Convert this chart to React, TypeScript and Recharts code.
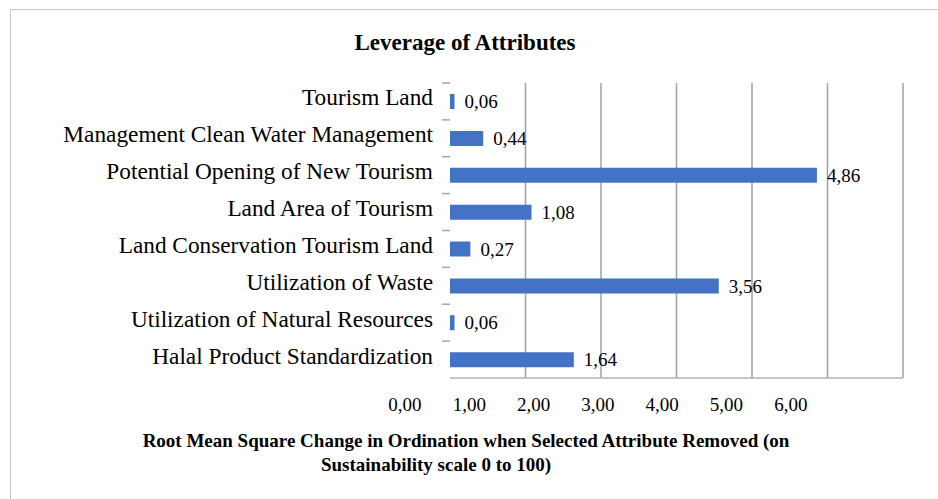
import React from "react";
import { BarChart, Bar, XAxis, YAxis, CartesianGrid, LabelList } from "recharts";

const categories = [
  "Tourism Land",
  "Management Clean Water Management",
  "Potential Opening of New Tourism",
  "Land Area of Tourism",
  "Land Conservation Tourism Land",
  "Utilization of Waste",
  "Utilization of Natural Resources",
  "Halal Product Standardization",
];
const values = [0.06, 0.44, 4.86, 1.08, 0.27, 3.56, 0.06, 1.64];
const tickValues = [0, 1, 2, 3, 4, 5, 6];
const gridValues = [1, 2, 3, 4, 5, 6];

const title = "Leverage of Attributes";
const axisTitle1 = "Root Mean Square Change in Ordination when Selected Attribute Removed (on";
const axisTitle2 = "Sustainability scale 0 to 100)";

const data = categories.map((name, i) => ({ name, value: values[i] }));

const W = 938;
const H = 499;
const FONT = "'Liberation Serif', 'Times New Roman', serif";
const fmt = (v: number) => v.toFixed(2).replace(".", ",");

// tick-label axis is drawn on its own scale (labels are offset in the original)
const LBL_MIN = 0.7;
const LBL_MAX = 7.745;

const CatTick = (props: any) => {
  const { x, y, payload } = props;
  const off = payload && payload.offset ? payload.offset : 0;
  return (
    <g>
      <text
        x={x}
        y={y}
        dy={4}
        textAnchor="end"
        fontFamily={FONT}
        fontSize={23.3}
        fill="#000"
      >
        {payload.value}
      </text>
      <line x1={x + 9} x2={x + 17} y1={y - off} y2={y - off} stroke="#a6a6a6" strokeWidth={1.5} />
    </g>
  );
};

const gridGen = (p: any) => {
  const s = p && p.xAxis && p.xAxis.scale;
  if (!s) return [];
  return gridValues.map((v) => (typeof s === "function" ? s(v) : s.map(v)));
};

export default function App() {
  return (
    <div style={{ position: "absolute", left: 0, top: 0, width: W, height: H, background: "#fff" }}>
      <div
        style={{
          position: "absolute",
          left: 10,
          top: 9,
          width: W - 10,
          height: H - 9,
          borderTop: "1.5px solid #c8c8c8",
          borderLeft: "1.5px solid #c8c8c8",
          boxSizing: "border-box",
        }}
      />
      <div
        style={{
          position: "absolute",
          left: 0,
          width: 930,
          top: 28,
          textAlign: "center",
          fontFamily: FONT,
          fontWeight: "bold",
          fontSize: 23,
          lineHeight: "30px",
        }}
      >
        {title}
      </div>
      <BarChart
        width={W}
        height={H}
        data={data}
        layout="vertical"
        margin={{ top: 83, right: 35, bottom: 80, left: 0 }}
        barSize={15}
      >
        <CartesianGrid
          xAxisId="a"
          horizontal={false}
          verticalCoordinatesGenerator={gridGen}
          stroke="#a0a0a0"
          strokeWidth={1.5}
        />
        <XAxis
          xAxisId="a"
          type="number"
          domain={[0, 6]}
          ticks={tickValues}
          tick={false}
          tickSize={7}
          height={1}
          axisLine={{ stroke: "#b0b0b0", strokeWidth: 1.5 }}
          tickLine={{ stroke: "#b0b0b0", strokeWidth: 1.5 }}
          allowDataOverflow
        />
        <XAxis
          xAxisId="z"
          type="number"
          domain={[LBL_MIN, LBL_MAX]}
          ticks={tickValues}
          interval={0}
          allowDataOverflow
          axisLine={false}
          tickLine={false}
          tickSize={6}
          tickMargin={13}
          height={40}
          tickFormatter={fmt}
          tick={{ fontFamily: FONT, fontSize: 19, fill: "#000" }}
        />
        <YAxis
          type="category"
          dataKey="name"
          width={450}
          axisLine={false}
          tickLine={false}
          tickSize={8}
          tickMargin={9}
          interval={0}
          tick={<CatTick />}
        />
        <Bar xAxisId="a" dataKey="value" fill="#4472C4" isAnimationActive={false}>
          <LabelList
            dataKey="value"
            position="right"
            offset={10}
            formatter={(v: any) => fmt(Number(v))}
            style={{ fontFamily: FONT, fontSize: 19, fill: "#000" }}
          />
        </Bar>
      </BarChart>
      <div
        style={{
          position: "absolute",
          left: 0,
          width: 932,
          top: 428,
          textAlign: "center",
          fontFamily: FONT,
          fontWeight: "bold",
          fontSize: 19,
          lineHeight: "26px",
        }}
      >
        {axisTitle1}
      </div>
      <div
        style={{
          position: "absolute",
          left: 0,
          width: 872,
          top: 452,
          textAlign: "center",
          fontFamily: FONT,
          fontWeight: "bold",
          fontSize: 19,
          lineHeight: "26px",
        }}
      >
        {axisTitle2}
      </div>
    </div>
  );
}
